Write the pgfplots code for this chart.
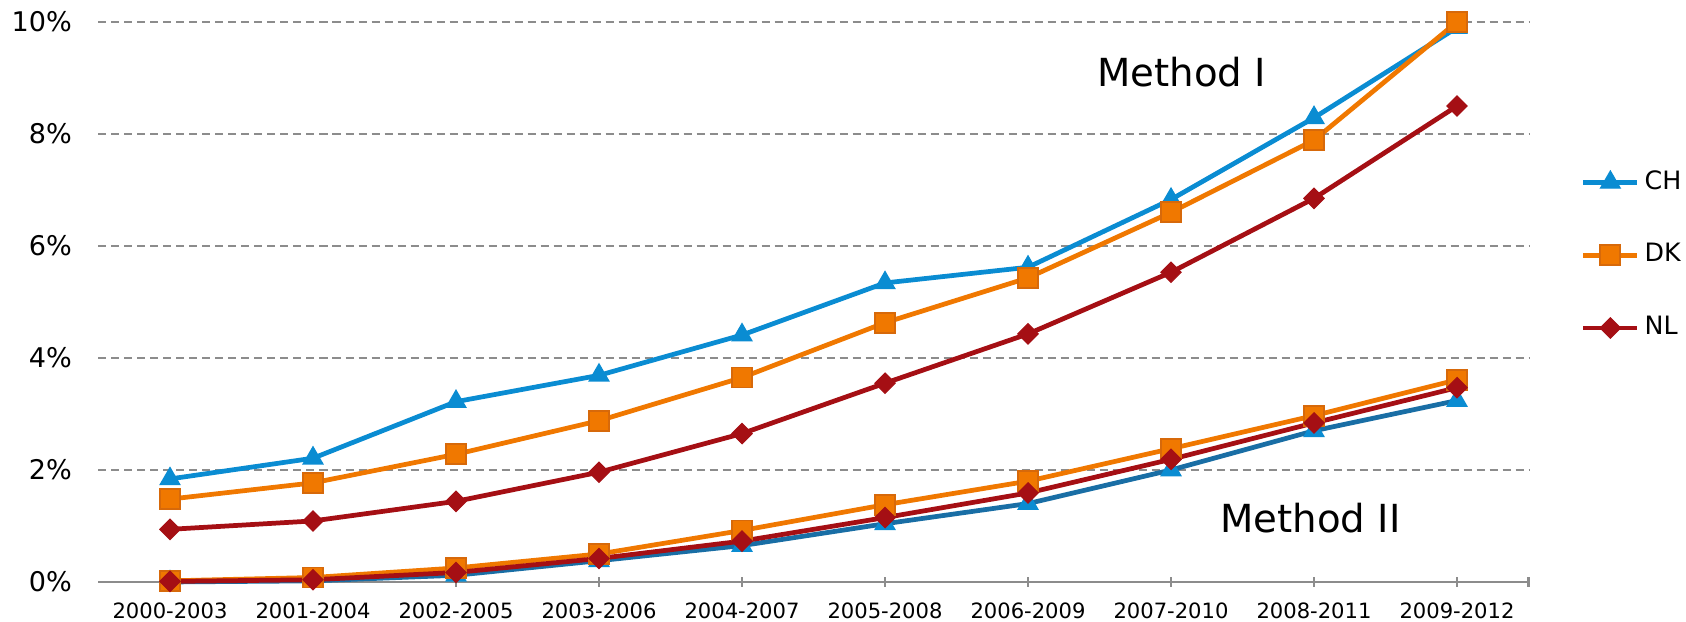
\documentclass[border=0pt]{standalone}
\usepackage{pgfplots}
\pgfplotsset{compat=1.18}
\usepackage{fontspec}
\setmainfont{DejaVu Sans}
\definecolor{chblue}{RGB}{10,140,210}
\definecolor{chdark}{RGB}{25,110,165}
\definecolor{dkorange}{RGB}{240,120,0}
\definecolor{dkborder}{RGB}{215,105,10}
\definecolor{nlred}{RGB}{165,15,20}
\definecolor{gridgray}{RGB}{140,140,140}
\begin{document}
\begin{tikzpicture}
\begin{axis}[
  name=ax,
  scale only axis,
  width=143mm, height=56mm,
  xmin=-0.5, xmax=9.5,
  ymin=0, ymax=10,
  axis x line*=bottom,
  axis y line*=left,
  x axis line style={draw=gridgray, line width=0.6pt, -},
  y axis line style={draw=none},
  xtick={0,1,...,9},
  extra x ticks={9.5},
  extra x tick labels={},
  extra x tick style={tick style={draw=gridgray, line width=0.6pt}},
  xticklabels={2000-2003,2001-2004,2002-2005,2003-2006,2004-2007,2005-2008,2006-2009,2007-2010,2008-2011,2009-2012},
  xtick align=center,
  major tick length=1mm,
  x tick style={draw=gridgray, line width=0.6pt},
  ytick={0,2,4,6,8,10},
  y tick style={draw=none},
  ymajorgrids,
  major grid style={draw=gridgray, line width=0.5pt, dash pattern=on 0.8mm off 0.5mm},
  /pgf/number format/assume math mode=true,
  yticklabel={\pgfmathprintnumber{\tick}\%},
  yticklabel style={font=\fontsize{7.7}{9}\selectfont, inner sep=0pt, anchor=east, xshift=-2.6mm},
  xticklabel style={font=\fontsize{6}{7}\selectfont, inner sep=0pt, anchor=north, yshift=-1.5mm},
  clip=false,
  legend style={draw=none, fill=none, at={(1.0367,0.5836)}, anchor=west,
    inner sep=0pt, outer sep=0pt,
    font=\fontsize{7.2}{8.5}\selectfont,
    row sep=4.9mm, column sep=0.5mm,
    nodes={inner sep=0pt, outer sep=0pt}},
  legend cell align=left,
  legend image code/.code={\draw[mark repeat=2,mark phase=2,#1] plot coordinates {(0cm,0cm) (0.27cm,0cm) (0.54cm,0cm)};},
]
% Method I
\addplot[chblue, line width=1.35pt, mark=triangle*, mark size=1.12mm, mark options={fill=chblue, draw=chblue, line width=0.4pt}]
 coordinates {(0,1.84) (1,2.21) (2,3.22) (3,3.69) (4,4.41) (5,5.34) (6,5.62) (7,6.83) (8,8.29) (9,9.90)};
\addlegendentry{CH}
\addplot[dkorange, line width=1.35pt, mark=square*, mark size=1.0mm, mark options={fill=dkorange, draw=dkborder, line width=0.5pt}]
 coordinates {(0,1.48) (1,1.77) (2,2.28) (3,2.88) (4,3.65) (5,4.63) (6,5.43) (7,6.60) (8,7.89) (9,10.0)};
\addlegendentry{DK}
\addplot[nlred, line width=1.35pt, mark=square*, mark size=0.72mm, mark options={fill=nlred, draw=nlred, rotate=45, line width=0.3pt}]
 coordinates {(0,0.94) (1,1.09) (2,1.44) (3,1.96) (4,2.65) (5,3.55) (6,4.43) (7,5.53) (8,6.85) (9,8.50)};
\addlegendentry{NL}
% Method II
\addplot[chdark, line width=1.35pt, mark=triangle*, mark size=1.12mm, mark options={fill=chblue, draw=chblue, line width=0.4pt}, forget plot]
 coordinates {(0,0.00) (1,0.02) (2,0.12) (3,0.38) (4,0.65) (5,1.04) (6,1.40) (7,2.00) (8,2.70) (9,3.24)};
\addplot[dkorange, line width=1.35pt, mark=square*, mark size=1.0mm, mark options={fill=dkorange, draw=dkborder, line width=0.5pt}, forget plot]
 coordinates {(0,0.02) (1,0.08) (2,0.25) (3,0.50) (4,0.92) (5,1.38) (6,1.80) (7,2.38) (8,2.97) (9,3.61)};
\addplot[nlred, line width=1.35pt, mark=square*, mark size=0.72mm, mark options={fill=nlred, draw=nlred, rotate=45, line width=0.3pt}, forget plot]
 coordinates {(0,0.01) (1,0.04) (2,0.17) (3,0.42) (4,0.73) (5,1.15) (6,1.59) (7,2.19) (8,2.84) (9,3.47)};
\node[anchor=base west, inner sep=0pt, font=\fontsize{11}{13}\selectfont] at (axis cs:6.48,8.84) {Method I};
\node[anchor=base west, inner sep=0pt, font=\fontsize{11}{13}\selectfont] at (axis cs:7.34,0.89) {Method II};
\end{axis}
\pgfresetboundingbox
\path[use as bounding box] ([xshift=-9.85mm, yshift=-4mm]ax.south west) rectangle ([xshift=15.75mm, yshift=2.2mm]ax.north east);
\end{tikzpicture}
\end{document}
